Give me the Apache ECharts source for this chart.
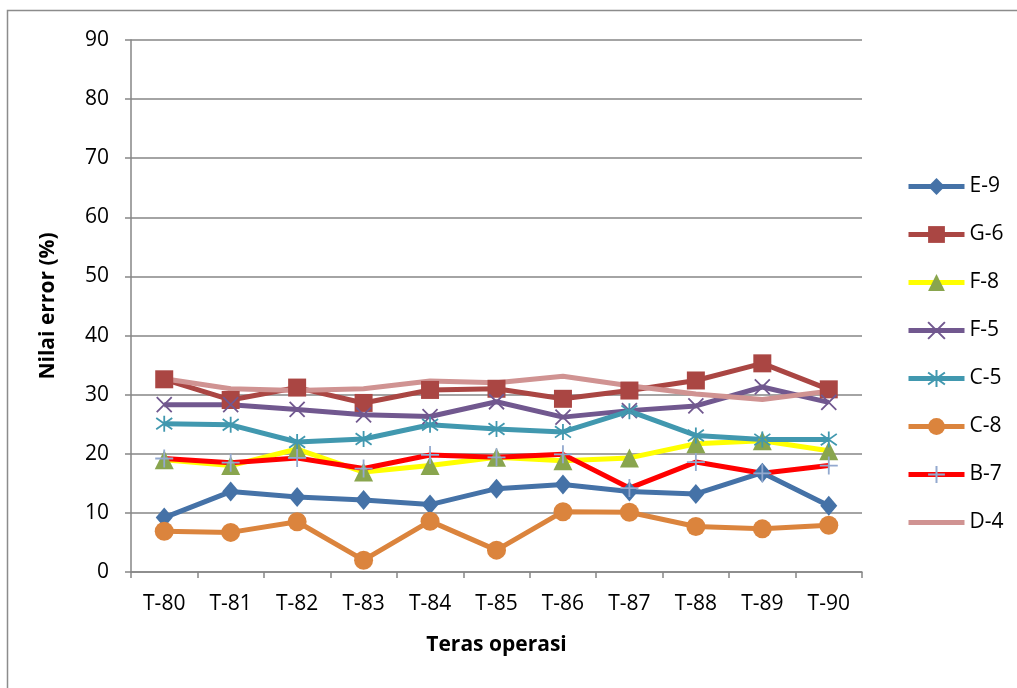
<!DOCTYPE html>
<html>
<head>
<meta charset="utf-8">
<script src="https://cdn.jsdelivr.net/npm/echarts@6/dist/echarts.min.js"></script>
<style>
  html, body { margin: 0; padding: 0; background: #ffffff; }
  #chart { width: 1017px; height: 688px; }
</style>
</head>
<body>
<div id="chart"></div>
<script>
// Operating terraces along the x axis
const categories = ['T-80', 'T-81', 'T-82', 'T-83', 'T-84', 'T-85', 'T-86', 'T-87', 'T-88', 'T-89', 'T-90'];

// Error values (%) per station
const e9 = [9.2, 13.6, 12.7, 12.2, 11.4, 14.1, 14.8, 13.6, 13.2, 16.8, 11.2];
const g6 = [32.6, 29.1, 31.2, 28.6, 30.8, 31.0, 29.3, 30.7, 32.4, 35.3, 30.9];
const f8 = [19.0, 18.0, 20.8, 16.9, 18.0, 19.4, 18.8, 19.3, 21.7, 22.2, 20.5];
const f5 = [28.3, 28.3, 27.5, 26.6, 26.3, 28.8, 26.2, 27.3, 28.1, 31.3, 28.7];
const c5 = [25.1, 24.9, 22.0, 22.5, 24.9, 24.2, 23.7, 27.2, 23.1, 22.4, 22.4];
const c8 = [6.9, 6.7, 8.5, 2.0, 8.6, 3.7, 10.2, 10.1, 7.7, 7.3, 7.9];
const b7 = [19.2, 18.5, 19.3, 17.5, 19.8, 19.4, 19.9, 14.2, 18.6, 16.7, 18.0];
const d4 = [32.7, 31.0, 30.7, 31.0, 32.3, 32.0, 33.1, 31.5, 30.1, 29.2, 30.6];

const seriesNames = ['E-9', 'G-6', 'F-8', 'F-5', 'C-5', 'C-8', 'B-7', 'D-4'];

const yTicks = { min: 0, max: 90, interval: 10 };

const FONT = '"Open Sans", "Liberation Sans", sans-serif';

// Stroke-only marker shapes
const CROSS = 'path://M0,0L10,10M10,0L0,10';
const STAR = 'path://M0,0L10,10M10,0L0,10M5,-2L5,12';
const PLUS = 'path://M5,0L5,10M0,5L10,5';

function series(name, data, lineColor, symbol, size, markColor, stroke) {
  const itemStyle = stroke
    ? { color: 'rgba(0,0,0,0)', borderColor: markColor, borderWidth: 1.8 }
    : { color: markColor, borderWidth: 0 };
  return {
    name: name,
    type: 'line',
    data: data,
    symbol: symbol,
    symbolSize: size,
    showSymbol: symbol !== 'none',
    lineStyle: { color: lineColor, width: 5 },
    itemStyle: itemStyle,
    emphasis: { disabled: true },
    animation: false
  };
}

const chart = echarts.init(document.getElementById('chart'), null, { renderer: 'canvas' });

chart.setOption({
  backgroundColor: '#ffffff',
  animation: false,
  graphic: [{
    type: 'rect',
    shape: { x: 7.5, y: 10.5, width: 1030, height: 700 },
    style: { fill: 'none', stroke: '#8c8c8c', lineWidth: 1.5 },
    silent: true,
    z: -1
  }],
  grid: { left: 131, right: 155, top: 40, bottom: 116 },
  legend: {
    orient: 'vertical',
    left: 901,
    top: 171,
    itemWidth: 56,
    itemHeight: 21,
    itemGap: 27,
    lineStyle: { width: 5 },
    textStyle: { fontFamily: FONT, fontSize: 21, color: '#000' },
    data: seriesNames.map(function (n) {
      return n === 'D-4' ? { name: n, itemStyle: { opacity: 0 } } : { name: n };
    })
  },
  xAxis: {
    type: 'category',
    data: categories,
    boundaryGap: true,
    name: 'Teras operasi',
    nameLocation: 'middle',
    nameGap: 63,
    nameTextStyle: { fontFamily: FONT, fontSize: 21, fontWeight: 'bold', color: '#000' },
    axisLine: { lineStyle: { color: '#868686', width: 1.5 } },
    axisTick: { show: true, length: 6, inside: false, lineStyle: { color: '#868686', width: 1.5 } },
    axisLabel: { fontFamily: FONT, fontSize: 21, color: '#000', margin: 22 }
  },
  yAxis: {
    type: 'value',
    min: yTicks.min,
    max: yTicks.max,
    interval: yTicks.interval,
    name: 'Nilai error (%)',
    nameLocation: 'middle',
    nameRotate: 90,
    nameGap: 72,
    nameTextStyle: { fontFamily: FONT, fontSize: 21, fontWeight: 'bold', color: '#000' },
    axisLine: { show: true, lineStyle: { color: '#868686', width: 1.5 } },
    axisTick: { show: true, length: 6, lineStyle: { color: '#868686', width: 1.5 } },
    axisLabel: { fontFamily: FONT, fontSize: 21, color: '#000', margin: 22 },
    splitLine: { show: true, lineStyle: { color: '#868686', width: 1.5 } }
  },
  series: [
    series('E-9', e9, '#4572A7', 'diamond', [17, 20], '#4572A7', false),
    series('G-6', g6, '#AA4643', 'rect', 18, '#AA4643', false),
    series('F-8', f8, '#FFFF00', 'triangle', 19, '#89A54E', false),
    series('F-5', f5, '#71588F', CROSS, 15, '#71588F', true),
    series('C-5', c5, '#4198AF', STAR, 16, '#4198AF', true),
    series('C-8', c8, '#DB843D', 'circle', 19, '#DB843D', false),
    series('B-7', b7, '#FF0000', PLUS, 18, '#93A9CF', true),
    series('D-4', d4, '#D09392', 'none', 0, '#D09392', false)
  ]
});
</script>
</body>
</html>
